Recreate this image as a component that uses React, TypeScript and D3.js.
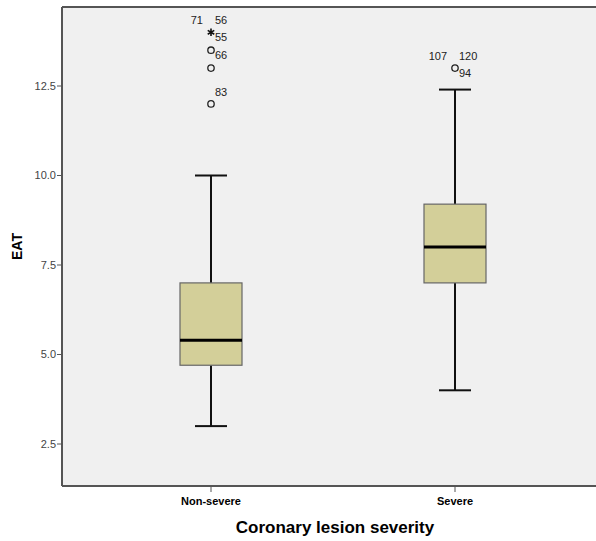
import React from "react";
import * as d3 from "d3";

const categories = ["Non-severe", "Severe"];
const q1 = [4.7, 7.0];
const medians = [5.4, 8.0];
const q3 = [7.0, 9.2];
const whiskerLow = [3.0, 4.0];
const whiskerHigh = [10.0, 12.4];
// outliers: group index, value, kind
const outlierGroup = [0, 0, 0, 0, 1];
const outlierValue = [12.0, 13.0, 13.5, 14.0, 13.0];
const outlierKind = ["circle", "circle", "circle", "star", "circle"];
// case labels: group index, value near which they sit, text
const labelGroup = [0, 0, 0, 0, 0, 1, 1, 1];
const labelValue = [14.0, 14.0, 14.0, 13.5, 12.0, 13.0, 13.0, 13.0];
const labelText = ["71", "56", "55", "66", "83", "107", "120", "94"];
const labelPlace = ["ul", "ur", "r", "r", "ur", "ul", "ur", "r"];
const yTicks = [2.5, 5.0, 7.5, 10.0, 12.5];

const W = 596;
const H = 541;
const left = 62;
const top = 7;
const bottom = 486;

export default function App() {
  const y = d3.scaleLinear().domain([2.5, 12.5]).range([444, 86]);
  const x = d3.scalePoint<string>().domain(categories).range([211, 455]);
  const boxW = 62;
  const capW = 32;
  const placeOffset: Record<string, [number, number, string]> = {
    ul: [-8, -8, "end"],
    ur: [4, -8, "start"],
    r: [4, 9, "start"],
  };
  const starPath = d3.symbol().type(d3.symbolAsterisk).size(40)();
  return (
    <svg width={W} height={H} style={{ position: "absolute", left: 0, top: 0 }}>
      <rect x={0} y={0} width={W} height={H} fill="#ffffff" />
      <rect x={left} y={top} width={W - left} height={bottom - top} fill="#f0f0f0" />
      <line x1={left} x2={W} y1={top} y2={top} stroke="#555" strokeWidth={2} />
      <line x1={left} x2={W} y1={bottom} y2={bottom} stroke="#555" strokeWidth={2} />
      <line x1={left} x2={left} y1={top} y2={bottom} stroke="#555" strokeWidth={2} />
      {yTicks.map((t) => (
        <g key={t}>
          <line x1={left - 5} x2={left} y1={y(t)} y2={y(t)} stroke="#555" strokeWidth={1} />
          <text x={left - 6} y={y(t)} dy="0.35em" textAnchor="end" fontFamily="Liberation Sans, Arial, sans-serif" fontSize={11} fill="#444">
            {t.toFixed(1)}
          </text>
        </g>
      ))}
      <text
        transform={`translate(22,${(top + bottom) / 2}) rotate(-90)`}
        textAnchor="middle"
        fontFamily="Liberation Sans, Arial, sans-serif"
        fontWeight="bold"
        fontSize={14}
        fill="#000"
      >
        EAT
      </text>
      {categories.map((c, i) => {
        const cx = x(c)!;
        return (
          <g key={c}>
            <line x1={cx} x2={cx} y1={bottom} y2={bottom + 6} stroke="#555" strokeWidth={1} />
            <text x={cx} y={bottom + 19} textAnchor="middle" fontFamily="Liberation Sans, Arial, sans-serif" fontWeight="bold" fontSize={11} fill="#000">
              {c}
            </text>
            <line x1={cx} x2={cx} y1={y(whiskerHigh[i])} y2={y(q3[i])} stroke="#111" strokeWidth={2} />
            <line x1={cx} x2={cx} y1={y(q1[i])} y2={y(whiskerLow[i])} stroke="#111" strokeWidth={2} />
            <line x1={cx - capW / 2} x2={cx + capW / 2} y1={y(whiskerHigh[i])} y2={y(whiskerHigh[i])} stroke="#111" strokeWidth={2} />
            <line x1={cx - capW / 2} x2={cx + capW / 2} y1={y(whiskerLow[i])} y2={y(whiskerLow[i])} stroke="#111" strokeWidth={2} />
            <rect x={cx - boxW / 2} y={y(q3[i])} width={boxW} height={y(q1[i]) - y(q3[i])} fill="#d3cf99" stroke="#666" strokeWidth={1.2} />
            <line x1={cx - boxW / 2} x2={cx + boxW / 2} y1={y(medians[i])} y2={y(medians[i])} stroke="#000" strokeWidth={3} />
          </g>
        );
      })}
      {outlierValue.map((v, k) => {
        const cx = x(categories[outlierGroup[k]])!;
        const cy = y(v);
        return outlierKind[k] === "star" ? (
          <path key={k} d={starPath!} transform={`translate(${cx},${cy})`} stroke="#111" strokeWidth={1.6} fill="none" />
        ) : (
          <circle key={k} cx={cx} cy={cy} r={3.2} fill="none" stroke="#222" strokeWidth={1.3} />
        );
      })}
      {labelText.map((t, k) => {
        const cx = x(categories[labelGroup[k]])!;
        const cy = y(labelValue[k]);
        const [dx, dy, anchor] = placeOffset[labelPlace[k]];
        return (
          <text key={k} x={cx + dx} y={cy + dy} textAnchor={anchor as any} fontFamily="Liberation Sans, Arial, sans-serif" fontSize={11} fill="#222">
            {t}
          </text>
        );
      })}
      <text x={335} y={533} textAnchor="middle" fontFamily="Liberation Sans, Arial, sans-serif" fontWeight="bold" fontSize={17} fill="#000">
        Coronary lesion severity
      </text>
    </svg>
  );
}
